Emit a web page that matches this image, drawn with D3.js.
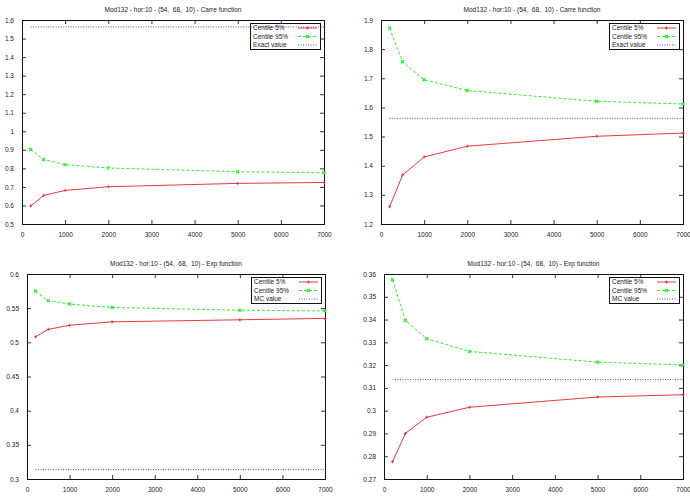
<!DOCTYPE html>
<html>
<head>
<meta charset="utf-8">
<script src="https://cdn.jsdelivr.net/npm/d3@7"></script>
<style>
  html, body { margin: 0; padding: 0; background: #fff; }
  svg { display: block; }
  text { font-family: "Liberation Sans", Arial, Helvetica, sans-serif; fill: #222; white-space: pre; }
</style>
</head>
<body>
<svg id="chart" width="690" height="497"></svg>
<script>
// ---------------- DATA ----------------
const sampleSizes = [200, 500, 1000, 2000, 5000, 7000];
const xTicks = [0, 1000, 2000, 3000, 4000, 5000, 6000, 7000];

const titles = [
  "Mod132 - hor:10 - (54,  68,  10) - Carre function",
  "Mod132 - hor:10 - (54,  68,  10) - Carre function",
  "Mod132 - hor:10 - (54,  68,  10) - Exp function",
  "Mod132 - hor:10 - (54,  68,  10) - Exp function"
];
const seriesNames = ["Centile 5%", "Centile 95%"];
const refNames = ["Exact value", "Exact value", "MC value", "MC value"];

// Panel 1 (top-left)
const carreA_p5  = [0.597, 0.654, 0.681, 0.701, 0.719, 0.724];
const carreA_p95 = [0.902, 0.848, 0.820, 0.802, 0.782, 0.776];
const carreA_ref = 1.5625;
const carreA_yTicks = [0.5, 0.6, 0.7, 0.8, 0.9, 1.0, 1.1, 1.2, 1.3, 1.4, 1.5, 1.6];

// Panel 2 (top-right)
const carreB_p5  = [1.259, 1.368, 1.430, 1.467, 1.501, 1.512];
const carreB_p95 = [1.872, 1.757, 1.695, 1.658, 1.621, 1.612];
const carreB_ref = 1.5625;
const carreB_yTicks = [1.2, 1.3, 1.4, 1.5, 1.6, 1.7, 1.8, 1.9];

// Panel 3 (bottom-left)
const expA_p5  = [0.508, 0.519, 0.525, 0.530, 0.533, 0.535];
const expA_p95 = [0.575, 0.561, 0.556, 0.551, 0.547, 0.546];
const expA_ref = 0.3137;
const expA_yTicks = [0.3, 0.35, 0.4, 0.45, 0.5, 0.55, 0.6];

// Panel 4 (bottom-right)
const expB_p5  = [0.2776, 0.2900, 0.2971, 0.3015, 0.3060, 0.3070];
const expB_p95 = [0.3575, 0.3396, 0.3316, 0.3260, 0.3213, 0.3201];
const expB_ref = 0.3137;
const expB_yTicks = [0.27, 0.28, 0.29, 0.30, 0.31, 0.32, 0.33, 0.34, 0.35, 0.36];

// ---------------- LAYOUT ----------------
const panels = [
  { box: [22, 324, 20, 224],  p5: carreA_p5, p95: carreA_p95, ref: carreA_ref, yTicks: carreA_yTicks },
  { box: [381, 683, 20, 224], p5: carreB_p5, p95: carreB_p95, ref: carreB_ref, yTicks: carreB_yTicks },
  { box: [27, 325, 274, 479], p5: expA_p5,   p95: expA_p95,   ref: expA_ref,   yTicks: expA_yTicks },
  { box: [384, 683, 274, 479], p5: expB_p5,  p95: expB_p95,   ref: expB_ref,   yTicks: expB_yTicks }
];

const RED = "#e33a44", GREEN = "#33ee33", BLUE = "#4a4af0";
const FS = 6.5;
const svg = d3.select("#chart");

panels.forEach((p, i) => {
  const [L, R, T, B] = p.box;
  const yMin = p.yTicks[0], yMax = p.yTicks[p.yTicks.length - 1];
  const x = d3.scaleLinear().domain([0, 7000]).range([L, R]);
  const y = d3.scaleLinear().domain([yMin, yMax]).range([B, T]);
  const g = svg.append("g");
  const fmt = v => String(+v.toFixed(4));

  // axes with inward ticks (gnuplot style), mirrored
  const axB = g.append("g").attr("transform", `translate(0,${B})`)
    .call(d3.axisBottom(x).tickValues(xTicks).tickFormat(fmt).tickSizeInner(-4).tickSizeOuter(0).tickPadding(8));
  const axT = g.append("g").attr("transform", `translate(0,${T})`)
    .call(d3.axisTop(x).tickValues(xTicks).tickFormat("").tickSizeInner(-4).tickSizeOuter(0));
  const axL = g.append("g").attr("transform", `translate(${L},0)`)
    .call(d3.axisLeft(y).tickValues(p.yTicks).tickFormat(fmt).tickSizeInner(-4).tickSizeOuter(0).tickPadding(8));
  const axR = g.append("g").attr("transform", `translate(${R},0)`)
    .call(d3.axisRight(y).tickValues(p.yTicks).tickFormat("").tickSizeInner(-4).tickSizeOuter(0));
  [axB, axT, axL, axR].forEach(a => {
    a.select(".domain").remove();
    a.selectAll("line").attr("stroke", "#333").attr("stroke-width", 1);
    a.selectAll("text").attr("font-size", FS).attr("fill", "#333")
      .attr("font-family", '"Liberation Sans", Arial, sans-serif');
  });

  // frame
  g.append("rect").attr("x", L + 0.5).attr("y", T + 0.5)
    .attr("width", R - L).attr("height", B - T)
    .attr("fill", "none").attr("stroke", "#111").attr("stroke-width", 1);

  // title
  g.append("text").attr("x", (L + R) / 2).attr("y", T - 8)
    .attr("text-anchor", "middle").attr("font-size", FS).attr("fill", "#333")
    .attr("xml:space", "preserve")
    .text(titles[i]);

  const line = d3.line().x(d => x(d[0])).y(d => y(d[1]));

  // reference line
  const refData = sampleSizes.map(s => [s, p.ref]);
  g.append("path").datum(refData).attr("d", line)
    .attr("fill", "none").attr("stroke", BLUE).attr("stroke-width", 1)
    .attr("stroke-dasharray", "1,1.5");

  // centile 5%
  const d5 = sampleSizes.map((s, k) => [s, p.p5[k]]);
  g.append("path").datum(d5).attr("d", line)
    .attr("fill", "none").attr("stroke", RED).attr("stroke-width", 1);
  g.selectAll(".m5").data(d5).enter().append("path")
    .attr("d", d => `M${x(d[0]) - 1.5},${y(d[1])}h3M${x(d[0])},${y(d[1]) - 1.5}v3`)
    .attr("stroke", RED).attr("stroke-width", 1);

  // centile 95%
  const d95 = sampleSizes.map((s, k) => [s, p.p95[k]]);
  g.append("path").datum(d95).attr("d", line)
    .attr("fill", "none").attr("stroke", GREEN).attr("stroke-width", 1)
    .attr("stroke-dasharray", "3,2");
  g.selectAll(".m95").data(d95).enter().append("path")
    .attr("d", d => `M${x(d[0]) - 1.5},${y(d[1]) - 1.5}l3,3M${x(d[0]) - 1.5},${y(d[1]) + 1.5}l3,-3`)
    .attr("stroke", GREEN).attr("stroke-width", 1.3);

  // legend
  const lw = 70, lh = 26;
  const lx = R - lw - 4, ly = T + 2.5;
  const lg = g.append("g");
  lg.append("rect").attr("x", Math.round(lx) + 0.5).attr("y", Math.round(ly) + 0.5)
    .attr("width", lw).attr("height", lh)
    .attr("fill", "none").attr("stroke", "#111").attr("stroke-width", 1);
  const rows = [
    { name: seriesNames[0], color: RED, dash: null, mark: "plus" },
    { name: seriesNames[1], color: GREEN, dash: "3,2", mark: "x" },
    { name: refNames[i], color: BLUE, dash: "1,1.5", mark: null }
  ];
  rows.forEach((r, k) => {
    const cy = Math.round(ly) + 5 + k * 8.5;
    lg.append("text").attr("x", Math.round(lx) + 3).attr("y", cy + 2.3)
      .attr("font-size", FS).attr("fill", "#333").text(r.name);
    const sx0 = Math.round(lx) + lw - 22, sx1 = Math.round(lx) + lw - 3;
    lg.append("line").attr("x1", sx0).attr("x2", sx1).attr("y1", cy).attr("y2", cy)
      .attr("stroke", r.color).attr("stroke-width", 1)
      .attr("stroke-dasharray", r.dash);
    const mx = (sx0 + sx1) / 2;
    if (r.mark === "plus") {
      lg.append("path").attr("d", `M${mx - 1.5},${cy}h3M${mx},${cy - 1.5}v3`).attr("stroke", r.color);
    } else if (r.mark === "x") {
      lg.append("path").attr("d", `M${mx - 1.5},${cy - 1.5}l3,3M${mx - 1.5},${cy + 1.5}l3,-3`).attr("stroke", r.color).attr("stroke-width", 1.3);
    }
  });
});
</script>
</body>
</html>
